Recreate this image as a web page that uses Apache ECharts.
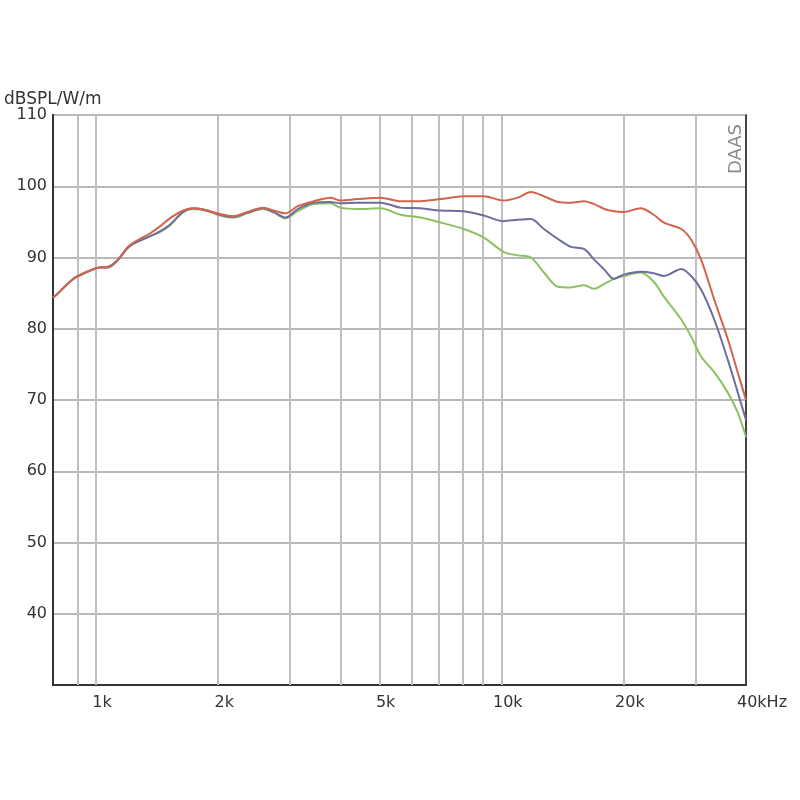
<!DOCTYPE html>
<html>
<head>
<meta charset="utf-8">
<script src="https://cdn.jsdelivr.net/npm/echarts@6/dist/echarts.min.js"></script>
<style>html,body{margin:0;padding:0;background:#fff}#c{width:800px;height:800px}</style>
</head>
<body>
<div id="c"></div>
<script>
var freq = [783, 800, 840, 890, 970, 1020, 1070, 1130, 1210, 1360, 1440, 1520, 1640, 1740, 1880, 2020, 2180, 2360, 2580, 2740, 2930, 3140, 3440, 3780, 4000, 4410, 5030, 5630, 6310, 7070, 8060, 9030, 10100, 10950, 11800, 12700, 13750, 14800, 15950, 16900, 17900, 18900, 20000, 22000, 23700, 25100, 27700, 29300, 31000, 33400, 36100, 38200, 40000];
var red   = [84.4, 84.8, 86.0, 87.2, 88.2, 88.6, 88.7, 89.7, 91.7, 93.4, 94.4, 95.5, 96.6, 96.9, 96.6, 96.1, 95.8, 96.4, 97.0, 96.6, 96.2, 97.2, 97.9, 98.4, 98.0, 98.2, 98.4, 97.9, 97.9, 98.2, 98.6, 98.6, 98.0, 98.4, 99.2, 98.6, 97.8, 97.7, 97.9, 97.5, 96.8, 96.5, 96.4, 96.9, 96.0, 94.9, 94.0, 92.5, 89.7, 84.1, 78.5, 73.8, 70.0];
var blue  = [84.4, 84.8, 86.0, 87.2, 88.2, 88.6, 88.6, 89.6, 91.6, 93.0, 93.7, 94.6, 96.4, 96.9, 96.6, 96.0, 95.7, 96.3, 96.9, 96.4, 95.6, 96.8, 97.7, 97.8, 97.6, 97.7, 97.7, 97.0, 96.9, 96.6, 96.5, 95.9, 95.1, 95.3, 95.4, 94.0, 92.6, 91.5, 91.2, 89.7, 88.3, 87.0, 87.6, 88.0, 87.8, 87.4, 88.4, 87.4, 85.5, 81.3, 75.6, 71.0, 67.2];
var green = [84.4, 84.8, 86.0, 87.2, 88.2, 88.6, 88.6, 89.6, 91.6, 93.0, 93.6, 94.5, 96.4, 96.8, 96.5, 95.9, 95.6, 96.2, 96.8, 96.3, 95.5, 96.5, 97.5, 97.6, 97.0, 96.8, 96.9, 96.0, 95.6, 94.9, 94.0, 92.8, 90.8, 90.3, 90.0, 87.9, 85.9, 85.8, 86.1, 85.6, 86.3, 87.0, 87.4, 87.9, 86.6, 84.5, 81.3, 78.9, 76.1, 73.9, 71.0, 68.2, 64.8];
var gridFreqs = [900, 1000, 2000, 3000, 4000, 5000, 6000, 7000, 8000, 9000, 10000, 20000, 30000, 40000];
var freqLabels = {1000: '1k', 2000: '2k', 5000: '5k', 10000: '10k', 20000: '20k', 40000: '40kHz'};
var yTicks = [40, 50, 60, 70, 80, 90, 100, 110];

function pairs(vals) { return freq.map(function (f, i) { return [f, vals[i]]; }); }

var chart = echarts.init(document.getElementById('c'), null, {renderer: 'canvas'});
var lineData = gridFreqs.map(function (f) {
  var lab = freqLabels[f];
  var item = {xAxis: f};
  if (f === 40000) {
    item.lineStyle = {color: '#444', width: 2};
  }
  item.label = lab ? {show: true, formatter: lab, offset: f === 40000 ? [16, 0] : [6, 0]} : {show: false};
  return item;
});
var curveStyle = function (c) {
  return {type: 'line', smooth: 0.3, symbol: 'none', z: 5, lineStyle: {color: c, width: 2}, itemStyle: {color: c}};
};
var option = {
  animation: false,
  backgroundColor: '#fff',
  grid: {left: 53, right: 54, top: 115, bottom: 115, show: true, borderColor: '#555', borderWidth: 2, backgroundColor: 'transparent'},
  xAxis: {
    type: 'log', logBase: 10, min: 783, max: 40000,
    axisLine: {show: true, onZero: false, lineStyle: {color: '#333', width: 2}},
    axisTick: {show: false}, axisLabel: {show: false}, splitLine: {show: false}, minorSplitLine: {show: false}
  },
  yAxis: {
    type: 'value', min: 30, max: 110, interval: 10,
    axisLine: {show: true, lineStyle: {color: '#333', width: 2}},
    axisTick: {show: false},
    axisLabel: {
      margin: 6, color: '#333', fontFamily: 'DejaVu Sans', fontSize: 16,
      formatter: function (v) { return yTicks.indexOf(v) >= 0 ? String(v) : ''; }
    },
    splitLine: {show: true, lineStyle: {color: '#b8b8b8', width: 2}}
  },
  graphic: [
    {type: 'text', left: 4, top: 91, style: {text: 'dBSPL/W/m', fill: '#333', font: '17px "DejaVu Sans"'}},
    {type: 'text', x: 736, y: 149, rotation: Math.PI / 2, style: {text: 'DAAS', fill: '#8a8a8a', font: '18px "DejaVu Sans"', align: 'center', verticalAlign: 'middle'}}
  ],
  series: [
    {
      type: 'line', data: [], z: 1, silent: true,
      markLine: {
        silent: true, symbol: ['none', 'none'], animation: false,
        lineStyle: {color: '#bfbfbf', width: 2, type: 'solid'},
        label: {position: 'start', distance: 10, color: '#333', fontFamily: 'DejaVu Sans', fontSize: 16},
        emphasis: {disabled: true},
        data: lineData
      }
    },
    Object.assign(curveStyle('#8cc263'), {name: 'green', data: pairs(green)}),
    Object.assign(curveStyle('#6d6d9e'), {name: 'blue', data: pairs(blue)}),
    Object.assign(curveStyle('#d2644e'), {name: 'red', data: pairs(red)})
  ]
};
chart.setOption(option);
</script>
</body>
</html>
